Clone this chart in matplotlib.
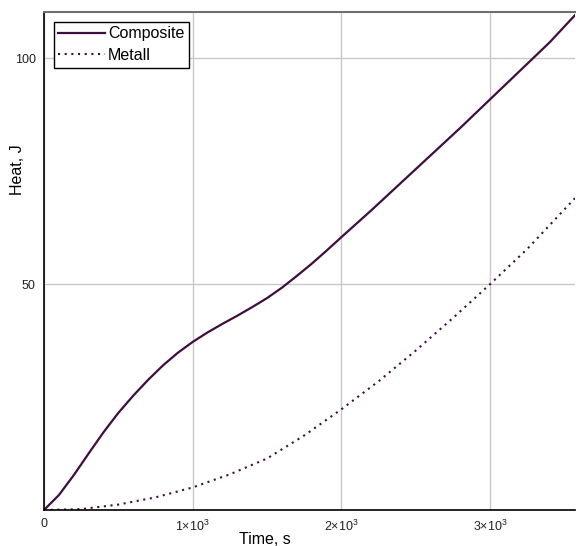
import matplotlib
matplotlib.use("Agg")
import matplotlib.pyplot as plt

t_composite = [0, 100, 200, 300, 400, 500, 600, 700, 800, 900, 1000, 1100, 1200,
               1300, 1400, 1500, 1600, 1700, 1800, 1900, 2000, 2200, 2400, 2600,
               2800, 3000, 3200, 3400, 3570]
q_composite = [0, 3.3, 7.7, 12.5, 17.2, 21.5, 25.3, 28.8, 32.0, 34.8, 37.2, 39.3,
               41.2, 43.0, 44.9, 46.9, 49.2, 51.8, 54.5, 57.4, 60.4, 66.3, 72.4,
               78.5, 84.6, 90.9, 97.2, 103.5, 109.5]

t_metall = [0, 250, 500, 750, 1000, 1250, 1500, 1750, 2000, 2250, 2500, 2750,
            3000, 3250, 3570]
q_metall = [0, 0.2, 1.2, 2.8, 5.0, 7.9, 11.4, 16.5, 22.3, 28.5, 35.3, 42.5,
            50.0, 57.8, 69.0]

x_ticks = [0, 1000, 2000, 3000]
x_tick_labels = ["0", r"1$\times$10$^{3}$", r"2$\times$10$^{3}$", r"3$\times$10$^{3}$"]
y_ticks = [50, 100]

plt.rcParams["font.family"] = ["Liberation Sans", "DejaVu Sans"]
plt.rcParams["mathtext.fontset"] = "custom"
plt.rcParams["mathtext.rm"] = "Liberation Sans"
plt.rcParams["mathtext.default"] = "rm"

color = "#3f0d40"

fig = plt.figure(figsize=(5.76, 5.46), dpi=100)
ax = fig.add_axes([44 / 576, 1 - 510 / 546, 531 / 576, 498 / 546])

ax.plot(t_composite, q_composite, color=color, lw=1.6, label="Composite")
ax.plot(t_metall, q_metall, color=color, lw=1.5, linestyle=(0, (1, 2.2)),
        label="Metall")

ax.set_xlim(0, 3570)
ax.set_ylim(0, 110.2)
ax.set_xticks(x_ticks)
ax.set_xticklabels(x_tick_labels)
ax.set_yticks(y_ticks)
ax.tick_params(length=0, labelsize=9, pad=6, colors="#222222")
ax.grid(True, color="#c8c8c8", lw=1)
ax.set_axisbelow(True)

for side in ["left", "bottom"]:
    ax.spines[side].set_color("black")
    ax.spines[side].set_linewidth(1.2)
ax.spines["top"].set_color("#707070")
ax.spines["top"].set_linewidth(1.5)
ax.spines["right"].set_visible(False)

ax.set_xlabel("Time, s", fontsize=11.5)
ax.set_ylabel("Heat, J", fontsize=11.5)
ax.xaxis.set_label_coords(0.416, -0.044)
ax.yaxis.set_label_coords(-0.036, 0.683)

leg = ax.legend(loc="upper left", fontsize=11.5, fancybox=False,
                framealpha=1, edgecolor="black", handlelength=2.9,
                handletextpad=0.2, borderpad=0.3, labelspacing=0.4,
                borderaxespad=0.6)
leg.get_frame().set_linewidth(1)

fig.savefig("out.png", dpi=100)
